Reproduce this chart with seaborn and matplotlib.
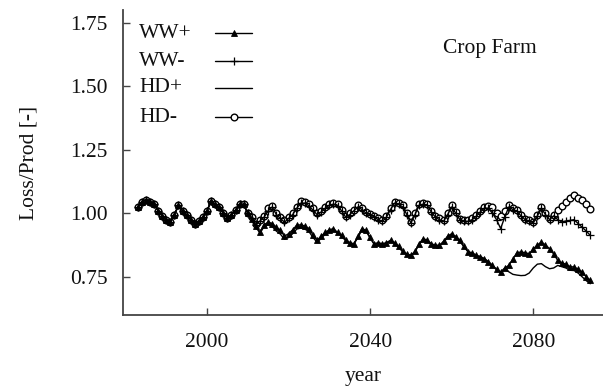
import numpy as np
import pandas as pd
import matplotlib
matplotlib.use("Agg")
import matplotlib.pyplot as plt
from matplotlib.lines import Line2D
import seaborn as sns

# ---------------- data ----------------
hist_years = list(range(1983, 2011))
hist_vals = [1.025, 1.045, 1.054, 1.045, 1.038, 1.010, 0.990, 0.975, 0.966, 0.995,
             1.031, 1.010, 0.992, 0.975, 0.960, 0.970, 0.985, 1.010, 1.048, 1.035,
             1.025, 1.000, 0.980, 0.995, 1.012, 1.035, 1.035, 1.000]

fut_years = list(range(2011, 2095))

hd_minus = [0.985, 0.960, 0.975, 0.990, 1.020, 1.030, 1.000, 0.985, 0.972, 0.985,
            1.000, 1.025, 1.050, 1.045, 1.038, 1.020, 1.000, 1.010, 1.025, 1.038,
            1.040, 1.038, 1.015, 0.990, 1.000, 1.015, 1.031, 1.020, 1.005, 0.999,
            0.990, 0.980, 0.972, 0.990, 1.020, 1.045, 1.040, 1.031, 1.000, 0.966,
            1.000, 1.038, 1.040, 1.038, 1.010, 0.990, 0.980, 0.972, 1.000, 1.031,
            1.005, 0.979, 0.975, 0.972, 0.980, 0.992, 1.010, 1.025, 1.030, 1.025,
            1.000, 0.990, 1.010, 1.031, 1.020, 1.012, 0.995, 0.979, 0.975, 0.966,
            0.995, 1.025, 1.000, 0.979, 0.995, 1.012, 1.030, 1.045, 1.060, 1.071,
            1.060, 1.051, 1.035, 1.018]

ww_minus = [0.980, 0.955, 0.970, 0.985, 1.010, 1.025, 0.995, 0.980, 0.965, 0.980,
            0.995, 1.020, 1.040, 1.040, 1.030, 1.012, 0.995, 1.005, 1.020, 1.032,
            1.036, 1.030, 1.010, 0.985, 0.995, 1.010, 1.025, 1.015, 1.000, 0.995,
            0.985, 0.975, 0.968, 0.985, 1.015, 1.040, 1.035, 1.025, 0.995, 0.962,
            0.995, 1.032, 1.036, 1.032, 1.005, 0.985, 0.975, 0.968, 0.995, 1.025,
            1.000, 0.975, 0.970, 0.968, 0.975, 0.988, 1.005, 1.020, 1.020, 1.000,
            0.975, 0.940, 0.985, 1.025, 1.015, 1.008, 0.990, 0.975, 0.970, 0.962,
            0.990, 1.020, 0.995, 0.975, 0.990, 0.975, 0.966, 0.970, 0.972, 0.975,
            0.960, 0.945, 0.930, 0.913]

ww_plus = [0.979, 0.950, 0.926, 0.955, 0.965, 0.960, 0.945, 0.933, 0.910, 0.920,
           0.935, 0.953, 0.955, 0.950, 0.940, 0.915, 0.894, 0.910, 0.925, 0.935,
           0.940, 0.925, 0.913, 0.895, 0.885, 0.880, 0.910, 0.940, 0.933, 0.905,
           0.880, 0.885, 0.880, 0.885, 0.894, 0.885, 0.870, 0.850, 0.840, 0.835,
           0.850, 0.880, 0.900, 0.895, 0.880, 0.875, 0.874, 0.890, 0.910, 0.920,
           0.905, 0.894, 0.870, 0.848, 0.845, 0.835, 0.830, 0.822, 0.810, 0.795,
           0.780, 0.769, 0.785, 0.795, 0.820, 0.845, 0.848, 0.845, 0.841, 0.860,
           0.875, 0.887, 0.875, 0.861, 0.840, 0.815, 0.805, 0.800, 0.790, 0.789,
           0.780, 0.769, 0.750, 0.736]

hd_plus = [0.975, 0.945, 0.922, 0.948, 0.955, 0.948, 0.930, 0.918, 0.898, 0.905,
           0.920, 0.938, 0.942, 0.938, 0.928, 0.905, 0.886, 0.902, 0.918, 0.930,
           0.936, 0.922, 0.910, 0.892, 0.882, 0.878, 0.905, 0.935, 0.930, 0.902,
           0.878, 0.882, 0.878, 0.882, 0.890, 0.882, 0.866, 0.848, 0.838, 0.833,
           0.848, 0.878, 0.898, 0.892, 0.878, 0.872, 0.872, 0.886, 0.905, 0.915,
           0.910, 0.890, 0.868, 0.850, 0.842, 0.832, 0.828, 0.820, 0.808, 0.793,
           0.778, 0.768, 0.780, 0.770, 0.760, 0.757, 0.755, 0.756, 0.765, 0.785,
           0.800, 0.802, 0.790, 0.782, 0.785, 0.795, 0.790, 0.785, 0.776, 0.775,
           0.765, 0.750, 0.735, 0.723]

series_names = ["WW+", "WW-", "HD+", "HD-"]
series_future = {"WW+": ww_plus, "WW-": ww_minus, "HD+": hd_plus, "HD-": hd_minus}

# ---------------- styling ----------------
sns.set_style("ticks")
plt.rcParams["font.family"] = ["Liberation Serif", "DejaVu Serif"]
FS = 15.5
TXT = "#111111"

W, H = 603, 391
fig = plt.figure(figsize=(W / 100, H / 100), dpi=100)
AX_L, AX_B, AX_W, AX_H = 123, 315, 480, 305  # pixel geometry of the axes
ax = fig.add_axes([AX_L / W, 1 - AX_B / H, AX_W / W, AX_H / H])

styles = {
    "WW+": dict(marker="^", markersize=4.8, markerfacecolor="black", markeredgecolor="black", markeredgewidth=0.6),
    "WW-": dict(marker="+", markersize=5.5, markeredgecolor="black", markeredgewidth=0.9),
    "HD+": dict(marker=None),
    "HD-": dict(marker="o", markersize=4.8, markerfacecolor="white", markeredgecolor="black", markeredgewidth=1.0),
}

rows = []
for name in series_names:
    yrs = hist_years + fut_years
    vals = hist_vals + series_future[name]
    for y, v in zip(yrs, vals):
        rows.append({"year": y, "value": v, "series": name})
df = pd.DataFrame(rows)

order_draw = ["HD-", "HD+", "WW-", "WW+"]
for name in order_draw:
    sub = df[df["series"] == name]
    sns.lineplot(data=sub, x="year", y="value", ax=ax, color="black",
                 linewidth=1.0, legend=False, **styles[name])

ax.set_xlim(1979.4, 2097.1)
ax.set_ylim(0.6, 1.8)
ax.set_xticks([2000, 2040, 2080])
ax.set_yticks([0.75, 1.00, 1.25, 1.50, 1.75])
ax.set_yticklabels(["0.75", "1.00", "1.25", "1.50", "1.75"])

for s in ["top", "right"]:
    ax.spines[s].set_visible(False)
for s in ["left", "bottom"]:
    ax.spines[s].set_color("#444444")
    ax.spines[s].set_linewidth(1.3)

ax.tick_params(axis="both", direction="in", length=5, width=1.0, color="#444444",
               labelsize=FS, labelcolor=TXT)
ax.tick_params(axis="y", pad=11)
ax.tick_params(axis="x", pad=13)

ax.set_xlabel("year", fontsize=FS, color=TXT)
ax.set_ylabel("Loss/Prod [-]", fontsize=FS, color=TXT)
ax.xaxis.set_label_coords(0.5, -0.203)
ax.yaxis.set_label_coords(-0.195, 0.5)
ax.xaxis.label.set_va("center")
ax.yaxis.label.set_va("center")

ax.text(2069.4, 1.65, "Crop Farm", fontsize=FS, ha="center", va="center", color=TXT)

# legend: label text first (left aligned), then the line sample
def ax_x(px):
    return (px - AX_L) / AX_W

def ax_y(py):
    return (AX_B - py) / AX_H

leg_rows_py = [33, 61, 88, 117]
for name, py in zip(series_names, leg_rows_py):
    ax.text(ax_x(139), ax_y(py), name, transform=ax.transAxes, fontsize=FS,
            ha="left", va="center", color=TXT)
    ax.add_line(Line2D([ax_x(215), ax_x(252)], [ax_y(py)] * 2, transform=ax.transAxes,
                       color="black", linewidth=1.0, clip_on=False))
    if styles[name].get("marker"):
        ax.add_line(Line2D([ax_x(233.5)], [ax_y(py)], transform=ax.transAxes,
                           color="black", linestyle="none", clip_on=False, **styles[name]))

fig.savefig("out.png", dpi=100)
